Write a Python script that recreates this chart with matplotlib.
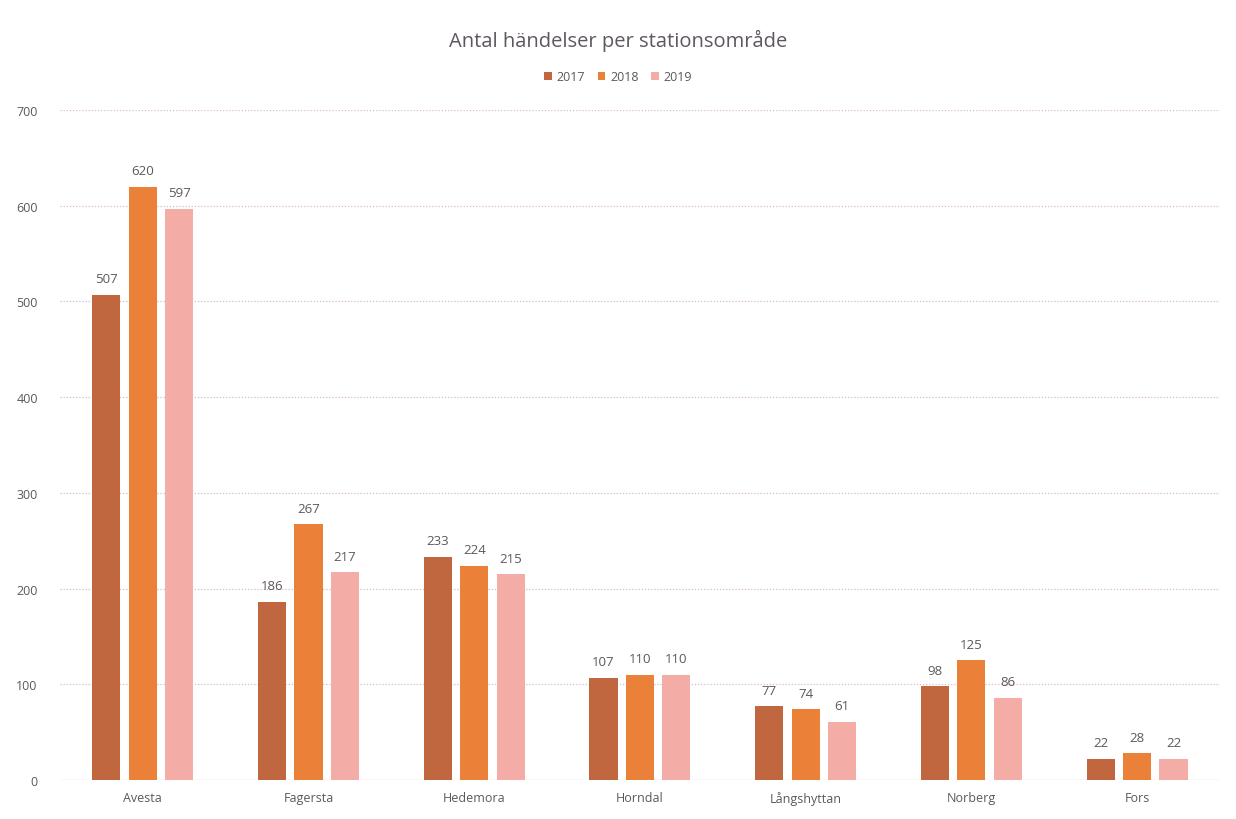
import matplotlib.pyplot as plt
import numpy as np

plt.rcParams['font.family'] = ['Open Sans', 'DejaVu Sans']

stations = ["Avesta", "Fagersta", "Hedemora", "Horndal", "Långshyttan", "Norberg", "Fors"]
years = ["2017", "2018", "2019"]
v2017 = [507, 186, 233, 107, 77, 98, 22]
v2018 = [620, 267, 224, 110, 74, 125, 28]
v2019 = [597, 217, 215, 110, 61, 86, 22]
yticks = [0, 100, 200, 300, 400, 500, 600, 700]

colors = ["#C0673F", "#EB8139", "#F3ADA6"]
txt = "#5E5660"

fig = plt.figure(figsize=(12.36, 8.2), dpi=100)
ax = fig.add_axes([0.0485, 0.0476, 0.9385, 0.817])

x = np.arange(len(stations))
w = 0.17
step = 0.22
for i, vals in enumerate([v2017, v2018, v2019]):
    bars = ax.bar(x + (i - 1) * step, vals, w, color=colors[i], label=years[i], zorder=3)
    for b, v in zip(bars, vals):
        ax.text(b.get_x() + b.get_width() / 2, v + 10, str(v), ha='center', va='bottom',
                fontsize=9.5, color=txt)

ax.set_xlim(-0.5, len(stations) - 0.5)
ax.set_ylim(0, 700)
ax.set_yticks(yticks)
ax.set_xticks(x)
ax.set_xticklabels(stations)
ax.tick_params(length=0, labelsize=9, colors=txt, pad=8)
ax.tick_params(axis='y', pad=16)
ax.grid(axis='y', color="#D9B8CC", linestyle=(0, (1, 1.5)), linewidth=0.9, zorder=0)
for s in ax.spines.values():
    s.set_visible(False)
ax.axhline(0, color="#C8B8C4", linestyle=(0, (1, 1.5)), linewidth=0.9, zorder=0)

fig.text(0.5, 0.95, "Antal händelser per stationsområde", ha='center', va='center',
         fontsize=14.5, color=txt)
fig.legend(loc='center', bbox_to_anchor=(0.5, 0.905), ncol=3, frameon=False,
           fontsize=9, labelcolor=txt, handlelength=0.6, handleheight=0.6,
           handletextpad=0.4, columnspacing=1.0)

fig.savefig("out.png", dpi=100)
